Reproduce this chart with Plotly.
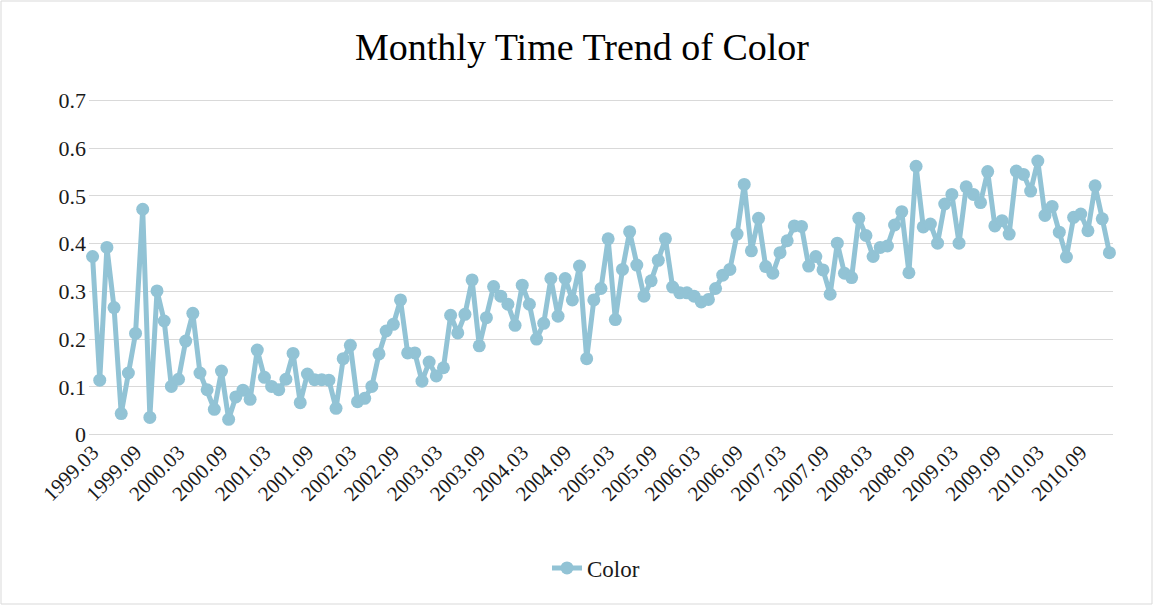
import plotly.graph_objects as go

# Monthly categories 1999.03 .. 2011.01
months = []
y0, m0 = 1999, 3
for k in range(143):
    yy = y0 + (m0 - 1 + k) // 12
    mm = (m0 - 1 + k) % 12 + 1
    months.append(f"{yy}.{mm:02d}")

color_values = [
    0.373, 0.114, 0.392, 0.266, 0.044, 0.129, 0.212, 0.472, 0.036, 0.301,
    0.238, 0.101, 0.116, 0.196, 0.254, 0.129, 0.094, 0.053, 0.133, 0.032,
    0.079, 0.093, 0.074, 0.177, 0.120, 0.101, 0.094, 0.116, 0.170, 0.067,
    0.127, 0.115, 0.115, 0.114, 0.055, 0.159, 0.187, 0.069, 0.076, 0.101,
    0.169, 0.217, 0.231, 0.282, 0.171, 0.171, 0.112, 0.152, 0.123, 0.140,
    0.250, 0.213, 0.252, 0.324, 0.186, 0.245, 0.310, 0.290, 0.273, 0.229,
    0.313, 0.273, 0.200, 0.233, 0.327, 0.248, 0.327, 0.282, 0.353, 0.159,
    0.282, 0.306, 0.410, 0.241, 0.346, 0.425, 0.355, 0.290, 0.322, 0.365,
    0.410, 0.309, 0.297, 0.297, 0.290, 0.278, 0.283, 0.306, 0.334, 0.346,
    0.420, 0.524, 0.385, 0.453, 0.352, 0.338, 0.381, 0.406, 0.437, 0.436,
    0.353, 0.373, 0.345, 0.294, 0.401, 0.338, 0.329, 0.453, 0.417, 0.373,
    0.392, 0.395, 0.439, 0.467, 0.339, 0.562, 0.435, 0.441, 0.401, 0.483,
    0.503, 0.401, 0.519, 0.503, 0.486, 0.551, 0.437, 0.448, 0.420, 0.552,
    0.545, 0.510, 0.573, 0.459, 0.478, 0.424, 0.372, 0.455, 0.462, 0.427,
    0.521, 0.452, 0.381,
]

tick_labels = months[::6]
y_ticks = [0, 0.1, 0.2, 0.3, 0.4, 0.5, 0.6, 0.7]
y_tick_text = ["0", "0.1", "0.2", "0.3", "0.4", "0.5", "0.6", "0.7"]

series_color = "#92c3d5"
font_family = "Liberation Serif, DejaVu Serif, serif"
text_color = "#1a1a1a"
grid_color = "#d9d9d9"

fig = go.Figure()
fig.add_trace(go.Scatter(
    x=months, y=color_values, mode="lines+markers", name="Color",
    line=dict(color=series_color, width=5),
    marker=dict(color=series_color, size=13),
    cliponaxis=False,
))

W, H = 1153, 605
L, R, T, B = 89, 40, 100, 170
pw, ph = W - L - R, H - T - B

def px_x(x):
    return (x - L) / pw

def px_y(y):
    return (H - B - y) / ph

edge_grid = [dict(type="line", xref="paper", yref="y", x0=0, x1=1,
                  y0=v, y1=v, line=dict(color=grid_color, width=1.3),
                  layer="below") for v in (y_ticks[0], y_ticks[-1])]

fig.update_layout(
    width=W, height=H,
    margin=dict(l=L, r=R, t=T, b=B, autoexpand=False),
    paper_bgcolor="white", plot_bgcolor="white",
    font=dict(family=font_family, color=text_color, size=21),
    title=dict(text="Monthly Time Trend of Color", x=582 / W, xanchor="center",
               xref="container", y=1 - 47 / H, yanchor="middle", automargin=False,
               font=dict(family=font_family, size=38, color="#000000")),
    xaxis=dict(type="category", tickmode="array", tickvals=tick_labels,
               ticktext=tick_labels, tickangle=-45, showgrid=False,
               showline=False, zeroline=False, ticks="", automargin=False,
               range=[-0.5, len(months) - 0.5],
               tickfont=dict(size=21, color=text_color)),
    yaxis=dict(range=[-0.0008, 0.7008], tickmode="array", tickvals=y_ticks,
               ticktext=y_tick_text, showgrid=True, gridcolor=grid_color,
               gridwidth=1.3, zeroline=False, showline=False, ticks="",
               automargin=False, ticklabelstandoff=2,
               tickfont=dict(size=22, color=text_color)),
    showlegend=True,
    legend=dict(orientation="h", x=px_x(596), xanchor="center",
                y=px_y(568), yanchor="middle",
                font=dict(size=23, color=text_color)),
    shapes=[dict(type="rect", xref="paper", yref="paper",
                 x0=px_x(1), x1=px_x(1152), y0=px_y(604), y1=px_y(1),
                 line=dict(color=grid_color, width=1), fillcolor="rgba(0,0,0,0)",
                 layer="below")] + edge_grid,
)

fig.write_html("out.html", config={"displayModeBar": False},
               post_script="document.body.style.margin='0';")
